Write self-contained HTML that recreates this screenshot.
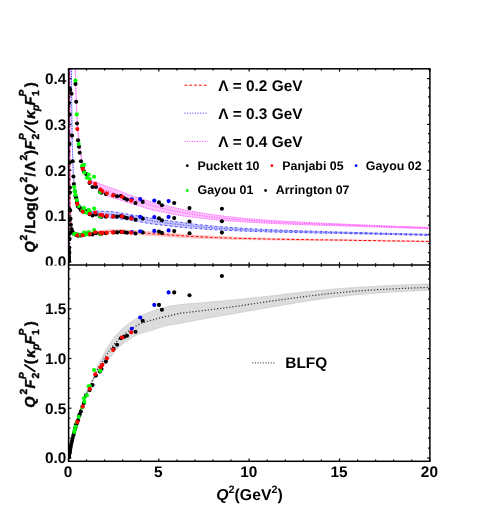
<!DOCTYPE html>
<html><head><meta charset="utf-8"><title>plot</title>
<style>html,body{margin:0;padding:0;background:#fff;}body{width:498px;height:530px;overflow:hidden;font-family:"Liberation Sans",sans-serif;}</style></head>
<body>
<svg width="498" height="530" viewBox="0 0 498 530" style="display:block">
<rect width="498" height="530" fill="#fff"/>
<defs><clipPath id="ct"><rect x="68.6" y="68.8" width="361.3" height="196.2"/></clipPath><clipPath id="cb"><rect x="68.6" y="265.0" width="361.3" height="196.3"/></clipPath></defs>
<g clip-path="url(#cb)">
<path d="M68.5 458L69.8 450.6L71.2 443.9L72.6 437.6L74 431.8L75.4 426.4L76.8 421.3L78.2 416.5L79.6 412L81 407.7L82.4 403.6L83.7 399.8L85.1 396.1L86.5 392.6L87.9 389.2L89.3 385.9L90.7 382.8L92.1 379.9L93.5 376.9L94.9 373.3L96.2 369.4L97.6 366.1L99 363.3L100.4 360.6L101.8 357.9L103.2 355.2L104.6 352.5L106 350.1L107.4 347.7L108.8 345.4L110.2 343.2L111.5 341.1L112.9 339.1L114.3 337.2L115.7 335.5L117.1 333.9L118.5 332.4L119.9 331.1L121.3 329.7L122.7 328.5L126.5 325.2L130.4 322.4L134.3 319.9L138.2 317.4L142.1 315.3L146 313.7L149.9 312.1L153.8 310.5L157.7 309.2L161.5 308.1L165.4 307.2L169.3 306.3L173.2 305.6L177.1 305L181 304.5L184.9 304.1L188.8 303.8L192.7 303.5L196.5 303.2L200.4 302.9L204.3 302.5L208.2 302.2L212.1 301.8L216 301.5L219.9 301.1L223.8 300.8L227.6 300.4L231.5 300.1L235.4 299.7L239.3 299.3L243.2 298.9L247.1 298.5L251 298.1L254.9 297.7L258.8 297.2L262.6 296.8L266.5 296.4L270.4 296L274.3 295.5L278.2 295L282.1 294.6L286 294.1L289.9 293.6L293.8 293.1L297.6 292.7L301.5 292.2L305.4 291.8L309.3 291.4L313.2 291L317.1 290.6L321 290.2L324.9 289.9L328.7 289.5L332.6 289.2L336.5 288.8L340.4 288.5L344.3 288.2L348.2 287.9L352.1 287.7L356 287.4L359.9 287.1L363.7 286.9L367.6 286.7L371.5 286.4L375.4 286.2L379.3 286L383.2 285.8L387.1 285.6L391 285.5L394.9 285.3L398.7 285.1L402.6 285L406.5 284.8L410.4 284.6L414.3 284.5L418.2 284.4L422.1 284.2L426 284.1L429.8 284L429.8 290.3L426 290.4L422.1 290.6L418.2 290.7L414.3 290.9L410.4 291.1L406.5 291.3L402.6 291.5L398.7 291.7L394.9 291.9L391 292.1L387.1 292.4L383.2 292.6L379.3 292.9L375.4 293.2L371.5 293.5L367.6 293.8L363.7 294.1L359.9 294.5L356 294.8L352.1 295.2L348.2 295.6L344.3 296L340.4 296.5L336.5 296.9L332.6 297.5L328.7 298L324.9 298.5L321 299.1L317.1 299.7L313.2 300.2L309.3 300.8L305.4 301.4L301.5 302L297.6 302.6L293.8 303.3L289.9 303.9L286 304.6L282.1 305.2L278.2 305.9L274.3 306.6L270.4 307.2L266.5 307.9L262.6 308.6L258.8 309.2L254.9 309.9L251 310.6L247.1 311.3L243.2 312L239.3 312.7L235.4 313.4L231.5 314L227.6 314.7L223.8 315.4L219.9 316L216 316.7L212.1 317.4L208.2 318L204.3 318.7L200.4 319.4L196.5 320.2L192.7 320.9L188.8 321.7L184.9 322.5L181 323.2L177.1 323.9L173.2 324.5L169.3 325.2L165.4 326.1L161.5 327.1L157.7 328.3L153.8 329.6L149.9 330.7L146 331.8L142.1 332.8L138.2 334.3L134.3 336.3L130.4 338.6L126.5 341.2L122.7 344.1L121.3 345.3L119.9 346.4L118.5 347.6L117.1 348.9L115.7 350.5L114.3 352.3L112.9 354.1L111.5 355.8L110.2 357.6L108.8 359.3L107.4 360.9L106 362.4L104.6 364L103.2 365.5L101.8 367.1L100.4 368.7L99 370.3L97.6 372L96.2 374.4L94.9 377.4L93.5 380.4L92.1 383.1L90.7 385.7L89.3 388.5L87.9 391.5L86.5 394.6L85.1 397.9L83.7 401.3L82.4 405L81 408.8L79.6 412.9L78.2 417.2L76.8 421.8L75.4 426.8L74 432.1L72.6 437.8L71.2 444L69.8 450.7L68.5 458Z" fill="#dcdcdc" stroke="#c4c4c4" stroke-width="0.6"/>
<path d="M68.5 458L69.8 450.7L71.2 443.9L72.6 437.7L74 431.9L75.4 426.6L76.8 421.6L78.2 416.8L79.6 412.4L81 408.3L82.4 404.3L83.7 400.5L85.1 397L86.5 393.6L87.9 390.3L89.3 387.2L90.7 384.3L92.1 381.5L93.5 378.7L94.9 375.5L96.2 372.1L97.6 369.3L99 367.1L100.4 364.9L101.8 362.6L103.2 360.3L104.6 358L106 355.7L107.4 353.5L108.8 351.3L110.2 349.4L111.5 347.6L112.9 345.9L114.3 344.2L115.7 342.6L117.1 341.1L118.5 339.6L119.9 338.3L121.3 337L122.7 335.7L126.5 332.6L130.4 329.8L134.3 327.1L138.2 324.7L142.1 322.9L146 321.8L149.9 320.7L153.8 319.6L157.7 318.5L161.5 317.5L165.4 316.6L169.3 315.8L173.2 314.8L177.1 313.9L181 313.2L184.9 312.7L188.8 312.2L192.7 311.8L196.5 311.4L200.4 310.9L204.3 310.5L208.2 310L212.1 309.5L216 309L219.9 308.5L223.8 308L227.6 307.5L231.5 307L235.4 306.4L239.3 305.9L243.2 305.3L247.1 304.7L251 304.1L254.9 303.5L258.8 302.9L262.6 302.4L266.5 301.8L270.4 301.2L274.3 300.7L278.2 300.1L282.1 299.6L286 299.1L289.9 298.5L293.8 298L297.6 297.5L301.5 297L305.4 296.5L309.3 296L313.2 295.5L317.1 295.1L321 294.6L324.9 294.1L328.7 293.7L332.6 293.3L336.5 292.9L340.4 292.5L344.3 292.1L348.2 291.7L352.1 291.4L356 291.1L359.9 290.8L363.7 290.6L367.6 290.3L371.5 290L375.4 289.8L379.3 289.6L383.2 289.4L387.1 289.1L391 289L394.9 288.8L398.7 288.6L402.6 288.4L406.5 288.2L410.4 288.1L414.3 287.9L418.2 287.8L422.1 287.6L426 287.5L429.8 287.4" fill="none" stroke="#333" stroke-width="1.2" stroke-dasharray="1.2 1.9"/>
<g fill="#000">
<circle cx="68.6" cy="457.3" r="2.05"/>
<circle cx="68.7" cy="456.8" r="2.05"/>
<circle cx="68.8" cy="456.4" r="2.05"/>
<circle cx="68.8" cy="455.9" r="2.05"/>
<circle cx="69.0" cy="455.1" r="2.05"/>
<circle cx="69.1" cy="454.4" r="2.05"/>
<circle cx="69.2" cy="454.1" r="2.05"/>
<circle cx="69.3" cy="453.5" r="2.05"/>
<circle cx="69.5" cy="452.7" r="2.05"/>
<circle cx="69.6" cy="452.3" r="2.05"/>
<circle cx="69.7" cy="451.6" r="2.05"/>
<circle cx="69.9" cy="450.5" r="2.05"/>
<circle cx="70.2" cy="449.0" r="2.05"/>
<circle cx="70.5" cy="447.6" r="2.05"/>
<circle cx="70.9" cy="445.6" r="2.05"/>
<circle cx="71.5" cy="443.0" r="2.05"/>
<circle cx="72.0" cy="440.7" r="2.05"/>
<circle cx="72.7" cy="438.1" r="2.05"/>
<circle cx="73.4" cy="435.2" r="2.05"/>
<circle cx="73.9" cy="433.0" r="2.05"/>
<circle cx="74.8" cy="429.8" r="2.05"/>
<circle cx="75.5" cy="427.3" r="2.05"/>
<circle cx="76.2" cy="424.3" r="2.05"/>
<circle cx="77.0" cy="422.7" r="2.05"/>
<circle cx="78.0" cy="420.3" r="2.05"/>
<circle cx="79.0" cy="416.1" r="2.05"/>
<circle cx="79.7" cy="414.3" r="2.05"/>
<circle cx="80.9" cy="411.5" r="2.05"/>
<circle cx="82.5" cy="406.5" r="2.05"/>
<circle cx="83.9" cy="403.1" r="2.05"/>
<circle cx="86.1" cy="395.4" r="2.05"/>
<circle cx="89.6" cy="390.1" r="2.05"/>
<circle cx="92.5" cy="385.1" r="2.05"/>
<circle cx="95.9" cy="375.6" r="2.05"/>
<circle cx="99.9" cy="371.6" r="2.05"/>
<circle cx="101.5" cy="369.0" r="2.05"/>
<circle cx="105.9" cy="361.6" r="2.05"/>
<circle cx="113.6" cy="348.9" r="2.05"/>
<circle cx="117.1" cy="344.7" r="2.05"/>
<circle cx="120.9" cy="338.2" r="2.05"/>
<circle cx="124.3" cy="336.8" r="2.05"/>
<circle cx="127.0" cy="335.8" r="2.05"/>
<circle cx="135.5" cy="331.8" r="2.05"/>
<circle cx="142.7" cy="320.8" r="2.05"/>
<circle cx="159.0" cy="304.9" r="2.05"/>
<circle cx="174.2" cy="292.4" r="2.05"/>
</g>
<g fill="#0f0">
<circle cx="74.2" cy="431.9" r="2.05"/>
<circle cx="74.8" cy="429.8" r="2.05"/>
<circle cx="75.5" cy="426.8" r="2.05"/>
<circle cx="76.8" cy="422.3" r="2.05"/>
<circle cx="78.7" cy="416.7" r="2.05"/>
<circle cx="82.2" cy="407.4" r="2.05"/>
<circle cx="84.0" cy="398.3" r="2.05"/>
<circle cx="84.4" cy="401.7" r="2.05"/>
<circle cx="86.9" cy="395.3" r="2.05"/>
<circle cx="88.7" cy="386.2" r="2.05"/>
<circle cx="89.8" cy="386.3" r="2.05"/>
<circle cx="94.1" cy="370.0" r="2.05"/>
<circle cx="100.3" cy="370.7" r="2.05"/>
</g>
<g fill="#00f">
<circle cx="131.7" cy="328.8" r="2.05"/>
<circle cx="140.2" cy="317.5" r="2.05"/>
<circle cx="154.3" cy="304.9" r="2.05"/>
<circle cx="168.6" cy="292.4" r="2.05"/>
</g>
<g fill="#f00">
<circle cx="77.3" cy="421.9" r="2.05"/>
<circle cx="82.7" cy="406.6" r="2.05"/>
<circle cx="89.8" cy="388.9" r="2.05"/>
<circle cx="95.2" cy="374.2" r="2.05"/>
<circle cx="100.4" cy="367.3" r="2.05"/>
<circle cx="102.4" cy="364.9" r="2.05"/>
<circle cx="106.9" cy="358.2" r="2.05"/>
<circle cx="113.1" cy="349.9" r="2.05"/>
<circle cx="122.1" cy="337.4" r="2.05"/>
<circle cx="131.2" cy="332.2" r="2.05"/>
</g>
<g fill="#000">
<circle cx="161.9" cy="309.7" r="2.05"/>
<circle cx="189.5" cy="295.3" r="2.05"/>
<circle cx="221.9" cy="276.0" r="2.05"/>
</g>
</g>
<g clip-path="url(#ct)">
<path d="M69.2 -100L69.2 -100L69.2 -100L69.2 -100L69.2 -100L69.2 -100L69.2 -100L69.2 -100L69.2 -100L69.2 -100L69.2 -100L69.2 -100L69.2 -100L69.3 -100L69.3 -100L69.3 -100L69.3 -100L69.3 -100L69.3 -100L69.3 -100L69.4 -100L69.4 -96.7L69.4 -38.3L69.4 9.3L69.5 48.2L69.5 80L69.5 106.2L69.6 127.7L69.6 145.5L69.7 160.2L69.8 172.4L69.8 182.6L69.9 191.1L70 198.2L70.1 204.2L70.2 209.3L70.4 213.5L70.5 217.1L70.7 220.1L70.9 222.6L71.1 224.8L71.3 226.6L71.6 228.1L71.9 229.3L72.2 230.3L72.6 231.2L73 231.9L73.5 232.4L74 232.8L74.6 233.1L75.3 233.4L76 233.5L76.9 233.5L77.8 233.5L78.9 233.5L80.1 233.4L81.4 233.3L82.9 233.1L84.6 232.9L86.5 232.7L88 232.6L89.5 232.4L91 232.3L92.5 232.2L94 232L95.6 231.4L97.1 231L98.6 230.8L100.1 230.6L101.6 230.5L103.1 230.3L104.6 230.1L106.1 229.9L107.6 229.8L109.1 229.7L110.6 229.6L112.1 229.6L113.6 229.5L115.1 229.5L116.6 229.5L118.1 229.6L119.6 229.7L121.2 229.7L122.7 229.8L127.9 230.1L133.1 230.5L138.3 230.8L143.5 231.2L148.7 231.6L153.9 232L159.1 232.4L164.3 232.8L169.5 233.2L174.7 233.6L179.9 234L185.1 234.4L190.3 234.8L195.6 235.1L200.8 235.5L206 235.8L211.2 236.1L216.4 236.4L221.6 236.6L226.8 236.8L232 237.1L237.2 237.3L242.4 237.5L247.6 237.6L252.8 237.8L258 238L263.2 238.1L268.4 238.2L273.7 238.4L278.9 238.5L284.1 238.6L289.3 238.7L294.5 238.8L299.7 238.9L304.9 239L310.1 239.1L315.3 239.2L320.5 239.3L325.7 239.4L330.9 239.5L336.1 239.5L341.3 239.6L346.5 239.7L351.8 239.8L357 239.9L362.2 240L367.4 240.1L372.6 240.2L377.8 240.2L383 240.3L388.2 240.4L393.4 240.5L398.6 240.6L403.8 240.7L409 240.7L414.2 240.8L419.4 240.9L424.6 241L429.8 241.1L429.8 241.8L424.6 241.7L419.4 241.7L414.2 241.6L409 241.5L403.8 241.5L398.6 241.4L393.4 241.3L388.2 241.3L383 241.2L377.8 241.1L372.6 241L367.4 241L362.2 240.9L357 240.8L351.8 240.8L346.5 240.7L341.3 240.7L336.1 240.6L330.9 240.6L325.7 240.5L320.5 240.5L315.3 240.4L310.1 240.4L304.9 240.3L299.7 240.3L294.5 240.2L289.3 240.2L284.1 240.1L278.9 240L273.7 240L268.4 239.9L263.2 239.8L258 239.7L252.8 239.7L247.6 239.6L242.4 239.5L237.2 239.4L232 239.2L226.8 239.1L221.6 239L216.4 238.8L211.2 238.7L206 238.5L200.8 238.3L195.6 238.1L190.3 237.9L185.1 237.7L179.9 237.4L174.7 237.1L169.5 236.8L164.3 236.4L159.1 236.1L153.9 235.8L148.7 235.5L143.5 235L138.3 234.5L133.1 234.2L127.9 233.9L122.7 233.7L121.2 233.6L119.6 233.6L118.1 233.5L116.6 233.5L115.1 233.5L113.6 233.6L112.1 233.6L110.6 233.7L109.1 233.7L107.6 233.7L106.1 233.6L104.6 233.5L103.1 233.4L101.6 233.3L100.1 233.1L98.6 233L97.1 232.9L95.6 233L94 233.3L92.5 233.4L91 233.5L89.5 233.5L88 233.6L86.5 233.6L84.6 233.7L82.9 233.8L81.4 233.9L80.1 234L78.9 234L77.8 234L76.9 234L76 233.9L75.3 233.7L74.6 233.4L74 233.1L73.5 232.7L73 232.1L72.6 231.4L72.2 230.5L71.9 229.5L71.6 228.2L71.3 226.7L71.1 224.9L70.9 222.8L70.7 220.3L70.5 217.3L70.4 213.7L70.2 209.4L70.1 204.4L70 198.4L69.9 191.3L69.8 182.8L69.8 172.6L69.7 160.4L69.6 145.7L69.6 128L69.5 106.5L69.5 80.4L69.5 48.6L69.4 9.7L69.4 -37.8L69.4 -96.1L69.4 -100L69.3 -100L69.3 -100L69.3 -100L69.3 -100L69.3 -100L69.3 -100L69.3 -100L69.2 -100L69.2 -100L69.2 -100L69.2 -100L69.2 -100L69.2 -100L69.2 -100L69.2 -100L69.2 -100L69.2 -100L69.2 -100L69.2 -100L69.2 -100Z" fill="#ffc4c4" stroke="#ffc4c4" stroke-width="0.8"/>
<path d="M70.1 -100L70.1 -100L70.1 -100L70.1 -100L70.1 -100L70.1 -100L70.2 -100L70.2 -100L70.2 -100L70.2 -100L70.2 -100L70.2 -100L70.2 -100L70.2 -100L70.2 -100L70.3 -100L70.3 -100L70.3 -100L70.3 -100L70.4 -100L70.4 -100L70.4 -100L70.5 -100L70.5 -100L70.5 -100L70.6 -100L70.6 -100L70.7 -100L70.8 -100L70.9 -100L70.9 -62.9L71 -23.1L71.1 10.5L71.2 39L71.4 63.3L71.5 83.9L71.7 101.6L71.8 116.7L72 129.7L72.2 140.8L72.5 150.4L72.7 158.8L73 165.9L73.3 172.2L73.7 177.6L74 182.3L74.5 186.4L74.9 189.9L75.4 193L76 195.8L76.7 198.1L77.4 200.2L78.1 202L79 203.6L80 205L81 206.3L82.2 207.3L83.5 208.3L84.9 209.1L86.5 209.8L88 210.4L89.5 210.9L91 211.3L92.5 211.7L94 211.8L95.6 211.4L97.1 211.1L98.6 211.1L100.1 211.2L101.6 211.3L103.1 211.3L104.6 211.3L106.1 211.4L107.6 211.4L109.1 211.5L110.6 211.6L112.1 211.7L113.6 211.9L115.1 212.1L116.6 212.3L118.1 212.5L119.6 212.8L121.2 213L122.7 213.3L127.9 214.2L133.1 215.2L138.3 216L143.5 216.9L148.7 217.8L153.9 218.5L159.1 219.3L164.3 220.1L169.5 220.8L174.7 221.6L179.9 222.3L185.1 223L190.3 223.7L195.6 224.3L200.8 224.9L206 225.4L211.2 225.9L216.4 226.4L221.6 226.8L226.8 227.2L232 227.6L237.2 227.9L242.4 228.3L247.6 228.6L252.8 228.9L258 229.1L263.2 229.4L268.4 229.6L273.7 229.9L278.9 230.1L284.1 230.3L289.3 230.4L294.5 230.6L299.7 230.8L304.9 231L310.1 231.1L315.3 231.3L320.5 231.4L325.7 231.6L330.9 231.8L336.1 231.9L341.3 232.1L346.5 232.2L351.8 232.4L357 232.5L362.2 232.6L367.4 232.8L372.6 232.9L377.8 233.1L383 233.2L388.2 233.3L393.4 233.5L398.6 233.6L403.8 233.7L409 233.9L414.2 234L419.4 234.1L424.6 234.2L429.8 234.4L429.8 235.4L424.6 235.3L419.4 235.1L414.2 235L409 234.9L403.8 234.8L398.6 234.7L393.4 234.6L388.2 234.5L383 234.3L377.8 234.2L372.6 234.1L367.4 234L362.2 233.9L357 233.8L351.8 233.7L346.5 233.6L341.3 233.4L336.1 233.3L330.9 233.2L325.7 233.2L320.5 233.1L315.3 233L310.1 232.8L304.9 232.7L299.7 232.6L294.5 232.5L289.3 232.4L284.1 232.3L278.9 232.2L273.7 232L268.4 231.9L263.2 231.7L258 231.6L252.8 231.4L247.6 231.2L242.4 231L237.2 230.8L232 230.6L226.8 230.4L221.6 230.1L216.4 229.8L211.2 229.5L206 229.2L200.8 228.8L195.6 228.4L190.3 228.1L185.1 227.6L179.9 227.1L174.7 226.6L169.5 226L164.3 225.3L159.1 224.7L153.9 224.1L148.7 223.4L143.5 222.4L138.3 221.5L133.1 220.7L127.9 219.9L122.7 219.2L121.2 219L119.6 218.7L118.1 218.5L116.6 218.3L115.1 218.2L113.6 218.1L112.1 218.1L110.6 217.9L109.1 217.8L107.6 217.5L106.1 217.2L104.6 216.8L103.1 216.3L101.6 215.9L100.1 215.3L98.6 214.7L97.1 214.2L95.6 214L94 214.1L92.5 213.8L91 213.3L89.5 212.8L88 212.2L86.5 211.5L84.9 210.6L83.5 209.7L82.2 208.6L81 207.5L80 206.2L79 204.7L78.1 203L77.4 201.2L76.7 199L76 196.6L75.4 193.9L74.9 190.8L74.5 187.2L74 183.1L73.7 178.3L73.3 172.9L73 166.7L72.7 159.5L72.5 151.2L72.2 141.6L72 130.5L71.8 117.6L71.7 102.5L71.5 84.9L71.4 64.3L71.2 40.1L71.1 11.7L71 -21.8L70.9 -61.4L70.9 -100L70.8 -100L70.7 -100L70.6 -100L70.6 -100L70.5 -100L70.5 -100L70.5 -100L70.4 -100L70.4 -100L70.4 -100L70.3 -100L70.3 -100L70.3 -100L70.3 -100L70.2 -100L70.2 -100L70.2 -100L70.2 -100L70.2 -100L70.2 -100L70.2 -100L70.2 -100L70.2 -100L70.1 -100L70.1 -100L70.1 -100L70.1 -100L70.1 -100L70.1 -100Z" fill="#c8c8ff" stroke="#c8c8ff" stroke-width="0.8"/>
<path d="M71.4 -100L71.4 -100L71.4 -100L71.4 -100L71.4 -100L71.5 -100L71.5 -100L71.5 -100L71.5 -100L71.5 -100L71.5 -100L71.5 -100L71.6 -100L71.6 -100L71.6 -100L71.6 -100L71.6 -100L71.7 -100L71.7 -100L71.7 -100L71.8 -100L71.8 -100L71.9 -100L71.9 -100L72 -100L72 -100L72.1 -100L72.2 -100L72.3 -100L72.3 -100L72.4 -100L72.5 -100L72.7 -100L72.8 -100L72.9 -100L73.1 -100L73.2 -100L73.4 -100L73.6 -76.1L73.8 -43.6L74.1 -15.4L74.3 9.2L74.6 30.7L74.9 49.5L75.2 65.9L75.6 80.3L76 93L76.5 104.2L76.9 114.1L77.5 122.8L78.1 130.6L78.7 137.5L79.4 143.7L80.2 149.2L81 154.1L81.9 158.5L82.9 162.4L84 166L85.2 169.2L86.5 172.1L88 174.8L89.5 177.1L91 179.1L92.5 180.9L94 182L95.6 182.2L97.1 182.4L98.6 183.2L100.1 184L101.6 184.7L103.1 185.2L104.6 185.7L106.1 186.2L107.6 186.7L109.1 187.3L110.6 187.8L112.1 188.3L113.6 188.8L115.1 189.3L116.6 189.9L118.1 190.5L119.6 191.2L121.2 191.8L122.7 192.4L127.9 194.4L133.1 196.4L138.3 198L143.5 199.6L148.7 201.2L153.9 202.6L159.1 203.9L164.3 205.3L169.5 206.5L174.7 207.7L179.9 208.9L185.1 210L190.3 211L195.6 212L200.8 212.9L206 213.8L211.2 214.5L216.4 215.3L221.6 215.9L226.8 216.6L232 217.1L237.2 217.7L242.4 218.2L247.6 218.7L252.8 219.1L258 219.5L263.2 219.9L268.4 220.3L273.7 220.6L278.9 221L284.1 221.3L289.3 221.6L294.5 221.8L299.7 222.1L304.9 222.4L310.1 222.6L315.3 222.9L320.5 223.1L325.7 223.4L330.9 223.6L336.1 223.8L341.3 224.1L346.5 224.3L351.8 224.5L357 224.7L362.2 224.9L367.4 225.1L372.6 225.4L377.8 225.6L383 225.8L388.2 226L393.4 226.2L398.6 226.4L403.8 226.5L409 226.7L414.2 226.9L419.4 227.1L424.6 227.3L429.8 227.4L429.8 228.7L424.6 228.5L419.4 228.4L414.2 228.2L409 228L403.8 227.9L398.6 227.7L393.4 227.5L388.2 227.4L383 227.2L377.8 227L372.6 226.8L367.4 226.7L362.2 226.5L357 226.3L351.8 226.2L346.5 226L341.3 225.8L336.1 225.7L330.9 225.5L325.7 225.3L320.5 225.2L315.3 225L310.1 224.8L304.9 224.7L299.7 224.5L294.5 224.3L289.3 224.1L284.1 223.9L278.9 223.7L273.7 223.5L268.4 223.2L263.2 223L258 222.7L252.8 222.4L247.6 222.1L242.4 221.8L237.2 221.5L232 221.1L226.8 220.7L221.6 220.2L216.4 219.8L211.2 219.3L206 218.7L200.8 218.1L195.6 217.5L190.3 216.9L185.1 216.2L179.9 215.4L174.7 214.4L169.5 213.4L164.3 212.4L159.1 211.3L153.9 210.2L148.7 208.9L143.5 207.3L138.3 205.6L133.1 204.1L127.9 202.5L122.7 200.8L121.2 200.3L119.6 199.7L118.1 199.2L116.6 198.6L115.1 198.3L113.6 198L112.1 197.5L110.6 197.1L109.1 196.5L107.6 195.8L106.1 194.9L104.6 193.9L103.1 192.8L101.6 191.6L100.1 190.3L98.6 188.7L97.1 187.2L95.6 186.3L94 185.6L92.5 184.2L91 182.3L89.5 180.2L88 177.8L86.5 174.9L85.2 171.9L84 168.6L82.9 164.9L81.9 160.9L81 156.5L80.2 151.5L79.4 145.9L78.7 139.7L78.1 132.8L77.5 125L76.9 116.3L76.5 106.4L76 95.3L75.6 82.6L75.2 68.2L74.9 51.9L74.6 33.2L74.3 11.8L74.1 -12.6L73.8 -40.7L73.6 -73L73.4 -100L73.2 -100L73.1 -100L72.9 -100L72.8 -100L72.7 -100L72.5 -100L72.4 -100L72.3 -100L72.3 -100L72.2 -100L72.1 -100L72 -100L72 -100L71.9 -100L71.9 -100L71.8 -100L71.8 -100L71.7 -100L71.7 -100L71.7 -100L71.6 -100L71.6 -100L71.6 -100L71.6 -100L71.6 -100L71.5 -100L71.5 -100L71.5 -100L71.5 -100L71.5 -100L71.5 -100L71.5 -100L71.4 -100L71.4 -100L71.4 -100L71.4 -100L71.4 -100Z" fill="#ffc4ff" stroke="#ffc4ff" stroke-width="0.8"/>
<path d="M69.2 -100L69.2 -100L69.2 -100L69.2 -100L69.2 -100L69.2 -100L69.2 -100L69.2 -100L69.2 -100L69.2 -100L69.2 -100L69.2 -100L69.2 -100L69.3 -100L69.3 -100L69.3 -100L69.3 -100L69.3 -100L69.3 -100L69.3 -100L69.4 -100L69.4 -96.4L69.4 -38L69.4 9.5L69.5 48.4L69.5 80.2L69.5 106.3L69.6 127.8L69.6 145.6L69.7 160.3L69.8 172.5L69.8 182.7L69.9 191.2L70 198.3L70.1 204.3L70.2 209.3L70.4 213.6L70.5 217.2L70.7 220.2L70.9 222.7L71.1 224.9L71.3 226.6L71.6 228.1L71.9 229.4L72.2 230.4L72.6 231.3L73 232L73.5 232.5L74 233L74.6 233.3L75.3 233.5L76 233.7L76.9 233.8L77.8 233.8L78.9 233.7L80.1 233.7L81.4 233.6L82.9 233.5L84.6 233.3L86.5 233.2L88 233.1L89.5 233L91 232.9L92.5 232.8L94 232.6L95.6 232.3L97.1 232L98.6 231.9L100.1 232L101.6 231.9L103.1 231.8L104.6 231.7L106.1 231.6L107.6 231.5L109.1 231.4L110.6 231.4L112.1 231.4L113.6 231.4L115.1 231.4L116.6 231.4L118.1 231.5L119.6 231.5L121.2 231.5L122.7 231.6L127.9 231.9L133.1 232.1L138.3 232.4L143.5 232.9L148.7 233.4L153.9 233.8L159.1 234.2L164.3 234.6L169.5 235L174.7 235.3L179.9 235.6L185.1 235.9L190.3 236.3L195.6 236.6L200.8 236.9L206 237.1L211.2 237.4L216.4 237.6L221.6 237.8L226.8 238L232 238.1L237.2 238.3L242.4 238.4L247.6 238.6L252.8 238.7L258 238.8L263.2 238.9L268.4 239L273.7 239.1L278.9 239.2L284.1 239.3L289.3 239.4L294.5 239.5L299.7 239.6L304.9 239.6L310.1 239.7L315.3 239.8L320.5 239.9L325.7 239.9L330.9 240L336.1 240.1L341.3 240.1L346.5 240.2L351.8 240.3L357 240.4L362.2 240.5L367.4 240.5L372.6 240.6L377.8 240.7L383 240.8L388.2 240.9L393.4 240.9L398.6 241L403.8 241.1L409 241.2L414.2 241.2L419.4 241.3L424.6 241.4L429.8 241.5" fill="none" stroke="#f00" stroke-width="1.0" stroke-dasharray="2.8 2"/>
<path d="M68.5 261.3L68.6 259.9L68.7 257.4L68.7 253.2L68.8 246.7L68.8 237.2L68.9 223.5L68.9 204.4L68.9 177.9L69 141.8L69 92.9L69 27.2L69 -60.3L69.1 -100L69.1 -100L69.1 -100L69.1 -100L69.1 -100L69.1 -100L69.1 -100L69.1 -100L69.1 -100L69.1 -100L69.1 -100L69.1 -100L69.1 -100L69.1 -100L69.2 -100L69.2 -100" fill="none" stroke="#f00" stroke-width="1.0" stroke-dasharray="2.8 2"/>
<path d="M86.5 209.8L88 210.4L89.5 210.9L91 211.3L92.5 211.7L94 211.8L95.6 211.4L97.1 211.1L98.6 211.1L100.1 211.2L101.6 211.3L103.1 211.3L104.6 211.3L106.1 211.4L107.6 211.4L109.1 211.5L110.6 211.6L112.1 211.7L113.6 211.9L115.1 212.1L116.6 212.3L118.1 212.5L119.6 212.8L121.2 213L122.7 213.3L127.9 214.2L133.1 215.2L138.3 216L143.5 216.9L148.7 217.8L153.9 218.5L159.1 219.3L164.3 220.1L169.5 220.8L174.7 221.6L179.9 222.3L185.1 223L190.3 223.7L195.6 224.3L200.8 224.9L206 225.4L211.2 225.9L216.4 226.4L221.6 226.8L226.8 227.2L232 227.6L237.2 227.9L242.4 228.3L247.6 228.6L252.8 228.9L258 229.1L263.2 229.4L268.4 229.6L273.7 229.9L278.9 230.1L284.1 230.3L289.3 230.4L294.5 230.6L299.7 230.8L304.9 231L310.1 231.1L315.3 231.3L320.5 231.4L325.7 231.6L330.9 231.8L336.1 231.9L341.3 232.1L346.5 232.2L351.8 232.4L357 232.5L362.2 232.6L367.4 232.8L372.6 232.9L377.8 233.1L383 233.2L388.2 233.3L393.4 233.5L398.6 233.6L403.8 233.7L409 233.9L414.2 234L419.4 234.1L424.6 234.2L429.8 234.4" fill="none" stroke="#33f" stroke-width="0.8" stroke-dasharray="2.4 2.6"/>
<path d="M86.5 211.5L88 212.2L89.5 212.8L91 213.3L92.5 213.8L94 214.1L95.6 214L97.1 214.2L98.6 214.7L100.1 215.3L101.6 215.9L103.1 216.3L104.6 216.8L106.1 217.2L107.6 217.5L109.1 217.8L110.6 217.9L112.1 218.1L113.6 218.1L115.1 218.2L116.6 218.3L118.1 218.5L119.6 218.7L121.2 219L122.7 219.2L127.9 219.9L133.1 220.7L138.3 221.5L143.5 222.4L148.7 223.4L153.9 224.1L159.1 224.7L164.3 225.3L169.5 226L174.7 226.6L179.9 227.1L185.1 227.6L190.3 228.1L195.6 228.4L200.8 228.8L206 229.2L211.2 229.5L216.4 229.8L221.6 230.1L226.8 230.4L232 230.6L237.2 230.8L242.4 231L247.6 231.2L252.8 231.4L258 231.6L263.2 231.7L268.4 231.9L273.7 232L278.9 232.2L284.1 232.3L289.3 232.4L294.5 232.5L299.7 232.6L304.9 232.7L310.1 232.8L315.3 233L320.5 233.1L325.7 233.2L330.9 233.2L336.1 233.3L341.3 233.4L346.5 233.6L351.8 233.7L357 233.8L362.2 233.9L367.4 234L372.6 234.1L377.8 234.2L383 234.3L388.2 234.5L393.4 234.6L398.6 234.7L403.8 234.8L409 234.9L414.2 235L419.4 235.1L424.6 235.3L429.8 235.4" fill="none" stroke="#33f" stroke-width="0.8" stroke-dasharray="2.4 2.6"/>
<path d="M70.1 -100L70.1 -100L70.1 -100L70.1 -100L70.1 -100L70.1 -100L70.2 -100L70.2 -100L70.2 -100L70.2 -100L70.2 -100L70.2 -100L70.2 -100L70.2 -100L70.2 -100L70.3 -100L70.3 -100L70.3 -100L70.3 -100L70.4 -100L70.4 -100L70.4 -100L70.5 -100L70.5 -100L70.5 -100L70.6 -100L70.6 -100L70.7 -100L70.8 -100L70.9 -100L70.9 -62.2L71 -22.5L71.1 11.1L71.2 39.6L71.4 63.8L71.5 84.4L71.7 102L71.8 117.1L72 130.1L72.2 141.2L72.5 150.8L72.7 159.1L73 166.3L73.3 172.6L73.7 178L74 182.7L74.5 186.8L74.9 190.3L75.4 193.5L76 196.2L76.7 198.6L77.4 200.7L78.1 202.5L79 204.1L80 205.6L81 206.9L82.2 208L83.5 209L84.9 209.9L86.5 210.7L88 211.3L89.5 211.8L91 212.3L92.5 212.8L94 213L95.6 212.8L97.1 212.8L98.6 213.1L100.1 213.4L101.6 213.7L103.1 213.8L104.6 213.9L106.1 214L107.6 214.1L109.1 214.2L110.6 214.4L112.1 214.6L113.6 214.7L115.1 214.9L116.6 215.1L118.1 215.3L119.6 215.6L121.2 215.8L122.7 216L127.9 216.9L133.1 217.7L138.3 218.4L143.5 219.3L148.7 220.3L153.9 221.2L159.1 222L164.3 222.7L169.5 223.4L174.7 224L179.9 224.6L185.1 225.2L190.3 225.8L195.6 226.3L200.8 226.8L206 227.3L211.2 227.7L216.4 228.1L221.6 228.4L226.8 228.8L232 229.1L237.2 229.4L242.4 229.6L247.6 229.9L252.8 230.1L258 230.3L263.2 230.5L268.4 230.7L273.7 230.9L278.9 231.1L284.1 231.2L289.3 231.4L294.5 231.5L299.7 231.7L304.9 231.8L310.1 232L315.3 232.1L320.5 232.2L325.7 232.4L330.9 232.5L336.1 232.6L341.3 232.7L346.5 232.9L351.8 233L357 233.1L362.2 233.3L367.4 233.4L372.6 233.5L377.8 233.7L383 233.8L388.2 233.9L393.4 234.1L398.6 234.2L403.8 234.3L409 234.4L414.2 234.5L419.4 234.7L424.6 234.8L429.8 234.9" fill="none" stroke="#33f" stroke-width="0.9" stroke-dasharray="1.1 1.5"/>
<path d="M68.6 260.7L68.8 257.6L69 251.9L69.1 242.6L69.2 228.3L69.3 207.2L69.4 177.1L69.5 134.8L69.6 76.5L69.6 -3L69.7 -100L69.7 -100L69.8 -100L69.8 -100L69.8 -100L69.9 -100L69.9 -100L69.9 -100L69.9 -100L69.9 -100L70 -100L70 -100L70 -100L70 -100L70 -100L70 -100L70 -100L70 -100L70 -100" fill="none" stroke="#33f" stroke-width="0.9" stroke-dasharray="1.1 1.5"/>
<path d="M86.5 172.1L88 174.8L89.5 177.1L91 179.1L92.5 180.9L94 182L95.6 182.2L97.1 182.4L98.6 183.2L100.1 184L101.6 184.7L103.1 185.2L104.6 185.7L106.1 186.2L107.6 186.7L109.1 187.3L110.6 187.8L112.1 188.3L113.6 188.8L115.1 189.3L116.6 189.9L118.1 190.5L119.6 191.2L121.2 191.8L122.7 192.4L127.9 194.4L133.1 196.4L138.3 198L143.5 199.6L148.7 201.2L153.9 202.6L159.1 203.9L164.3 205.3L169.5 206.5L174.7 207.7L179.9 208.9L185.1 210L190.3 211L195.6 212L200.8 212.9L206 213.8L211.2 214.5L216.4 215.3L221.6 215.9L226.8 216.6L232 217.1L237.2 217.7L242.4 218.2L247.6 218.7L252.8 219.1L258 219.5L263.2 219.9L268.4 220.3L273.7 220.6L278.9 221L284.1 221.3L289.3 221.6L294.5 221.8L299.7 222.1L304.9 222.4L310.1 222.6L315.3 222.9L320.5 223.1L325.7 223.4L330.9 223.6L336.1 223.8L341.3 224.1L346.5 224.3L351.8 224.5L357 224.7L362.2 224.9L367.4 225.1L372.6 225.4L377.8 225.6L383 225.8L388.2 226L393.4 226.2L398.6 226.4L403.8 226.5L409 226.7L414.2 226.9L419.4 227.1L424.6 227.3L429.8 227.4" fill="none" stroke="#f3f" stroke-width="0.7" stroke-dasharray="1.2 1.2"/>
<path d="M86.5 174.9L88 177.8L89.5 180.2L91 182.3L92.5 184.2L94 185.6L95.6 186.3L97.1 187.2L98.6 188.7L100.1 190.3L101.6 191.6L103.1 192.8L104.6 193.9L106.1 194.9L107.6 195.8L109.1 196.5L110.6 197.1L112.1 197.5L113.6 198L115.1 198.3L116.6 198.6L118.1 199.2L119.6 199.7L121.2 200.3L122.7 200.8L127.9 202.5L133.1 204.1L138.3 205.6L143.5 207.3L148.7 208.9L153.9 210.2L159.1 211.3L164.3 212.4L169.5 213.4L174.7 214.4L179.9 215.4L185.1 216.2L190.3 216.9L195.6 217.5L200.8 218.1L206 218.7L211.2 219.3L216.4 219.8L221.6 220.2L226.8 220.7L232 221.1L237.2 221.5L242.4 221.8L247.6 222.1L252.8 222.4L258 222.7L263.2 223L268.4 223.2L273.7 223.5L278.9 223.7L284.1 223.9L289.3 224.1L294.5 224.3L299.7 224.5L304.9 224.7L310.1 224.8L315.3 225L320.5 225.2L325.7 225.3L330.9 225.5L336.1 225.7L341.3 225.8L346.5 226L351.8 226.2L357 226.3L362.2 226.5L367.4 226.7L372.6 226.8L377.8 227L383 227.2L388.2 227.4L393.4 227.5L398.6 227.7L403.8 227.9L409 228L414.2 228.2L419.4 228.4L424.6 228.5L429.8 228.7" fill="none" stroke="#f3f" stroke-width="0.7" stroke-dasharray="1.2 1.2"/>
<path d="M71.4 -100L71.4 -100L71.4 -100L71.4 -100L71.4 -100L71.5 -100L71.5 -100L71.5 -100L71.5 -100L71.5 -100L71.5 -100L71.5 -100L71.6 -100L71.6 -100L71.6 -100L71.6 -100L71.6 -100L71.7 -100L71.7 -100L71.7 -100L71.8 -100L71.8 -100L71.9 -100L71.9 -100L72 -100L72 -100L72.1 -100L72.2 -100L72.3 -100L72.3 -100L72.4 -100L72.5 -100L72.7 -100L72.8 -100L72.9 -100L73.1 -100L73.2 -100L73.4 -100L73.6 -74.6L73.8 -42.2L74.1 -14L74.3 10.5L74.6 31.9L74.9 50.7L75.2 67.1L75.6 81.5L76 94.1L76.5 105.3L76.9 115.2L77.5 123.9L78.1 131.7L78.7 138.6L79.4 144.8L80.2 150.3L81 155.3L81.9 159.7L82.9 163.7L84 167.3L85.2 170.5L86.5 173.5L88 176.3L89.5 178.7L91 180.7L92.5 182.5L94 183.8L95.6 184.4L97.1 185L98.6 186.2L100.1 187.4L101.6 188.3L103.1 189L104.6 189.6L106.1 190.2L107.6 190.7L109.1 191.2L110.6 191.8L112.1 192.4L113.6 193L115.1 193.6L116.6 194.1L118.1 194.7L119.6 195.2L121.2 195.7L122.7 196.3L127.9 198.1L133.1 199.8L138.3 201.3L143.5 203L148.7 204.7L153.9 206.2L159.1 207.6L164.3 208.8L169.5 209.9L174.7 211L179.9 211.9L185.1 212.9L190.3 213.8L195.6 214.7L200.8 215.5L206 216.2L211.2 216.9L216.4 217.5L221.6 218.1L226.8 218.6L232 219.1L237.2 219.5L242.4 220L247.6 220.3L252.8 220.7L258 221L263.2 221.4L268.4 221.7L273.7 222L278.9 222.2L284.1 222.5L289.3 222.8L294.5 223L299.7 223.2L304.9 223.5L310.1 223.7L315.3 223.9L320.5 224.1L325.7 224.3L330.9 224.5L336.1 224.7L341.3 224.9L346.5 225.1L351.8 225.3L357 225.5L362.2 225.7L367.4 225.9L372.6 226.1L377.8 226.3L383 226.5L388.2 226.7L393.4 226.9L398.6 227.1L403.8 227.2L409 227.4L414.2 227.6L419.4 227.8L424.6 227.9L429.8 228.1" fill="none" stroke="#f3f" stroke-width="0.9" stroke-dasharray="1.1 1.4"/>
<path d="M68.8 259.8L69.1 254.5L69.4 244.5L69.6 228.2L69.8 203.3L70 166.7L70.2 114.6L70.3 41.7L70.4 -58.7L70.5 -100L70.6 -100L70.7 -100L70.8 -100L70.9 -100L70.9 -100L71 -100L71 -100L71 -100L71.1 -100L71.1 -100L71.1 -100L71.2 -100L71.2 -100L71.2 -100L71.2 -100L71.2 -100L71.2 -100L71.3 -100L71.3 -100" fill="none" stroke="#f3f" stroke-width="0.9" stroke-dasharray="1.1 1.4"/>
<g fill="#000">
<circle cx="68.6" cy="260.8" r="2.05"/>
<circle cx="68.7" cy="258.1" r="2.05"/>
<circle cx="68.8" cy="251.5" r="2.05"/>
<circle cx="68.8" cy="234.6" r="2.05"/>
<circle cx="69.0" cy="102.9" r="2.05"/>
<circle cx="69.5" cy="66.0" r="2.05"/>
<circle cx="69.6" cy="114.5" r="2.05"/>
<circle cx="69.7" cy="162.5" r="2.05"/>
<circle cx="69.9" cy="192.6" r="2.05"/>
<circle cx="70.2" cy="210.4" r="2.05"/>
<circle cx="70.5" cy="218.8" r="2.05"/>
<circle cx="70.9" cy="224.7" r="2.05"/>
<circle cx="71.5" cy="229.0" r="2.05"/>
<circle cx="72.0" cy="230.9" r="2.05"/>
<circle cx="72.7" cy="232.4" r="2.05"/>
<circle cx="73.4" cy="233.3" r="2.05"/>
<circle cx="73.9" cy="233.8" r="2.05"/>
<circle cx="74.8" cy="234.2" r="2.05"/>
<circle cx="75.5" cy="234.6" r="2.05"/>
<circle cx="76.2" cy="234.2" r="2.05"/>
<circle cx="77.0" cy="235.2" r="2.05"/>
<circle cx="78.0" cy="235.8" r="2.05"/>
<circle cx="79.0" cy="235.0" r="2.05"/>
<circle cx="79.7" cy="235.1" r="2.05"/>
<circle cx="80.9" cy="235.4" r="2.05"/>
<circle cx="82.5" cy="234.9" r="2.05"/>
<circle cx="83.9" cy="234.8" r="2.05"/>
<circle cx="86.1" cy="233.6" r="2.05"/>
<circle cx="89.6" cy="234.4" r="2.05"/>
<circle cx="92.5" cy="234.5" r="2.05"/>
<circle cx="95.9" cy="233.2" r="2.05"/>
<circle cx="99.9" cy="233.8" r="2.05"/>
<circle cx="101.5" cy="233.8" r="2.05"/>
<circle cx="105.9" cy="233.3" r="2.05"/>
<circle cx="113.6" cy="232.4" r="2.05"/>
<circle cx="117.1" cy="232.4" r="2.05"/>
<circle cx="120.9" cy="231.7" r="2.05"/>
<circle cx="124.3" cy="232.3" r="2.05"/>
<circle cx="127.0" cy="232.7" r="2.05"/>
<circle cx="135.5" cy="233.5" r="2.05"/>
<circle cx="142.7" cy="232.4" r="2.05"/>
<circle cx="159.0" cy="231.6" r="2.05"/>
<circle cx="174.2" cy="231.1" r="2.05"/>
</g>
<g fill="#0f0">
<circle cx="74.2" cy="234.0" r="2.05"/>
<circle cx="74.8" cy="234.2" r="2.05"/>
<circle cx="75.5" cy="234.1" r="2.05"/>
<circle cx="76.8" cy="234.2" r="2.05"/>
<circle cx="78.7" cy="234.9" r="2.05"/>
<circle cx="82.2" cy="234.9" r="2.05"/>
<circle cx="84.0" cy="232.6" r="2.05"/>
<circle cx="84.4" cy="234.7" r="2.05"/>
<circle cx="86.9" cy="234.3" r="2.05"/>
<circle cx="88.7" cy="232.0" r="2.05"/>
<circle cx="89.8" cy="233.0" r="2.05"/>
<circle cx="94.1" cy="230.0" r="2.05"/>
<circle cx="100.3" cy="233.8" r="2.05"/>
</g>
<g fill="#00f">
<circle cx="131.7" cy="232.1" r="2.05"/>
<circle cx="140.2" cy="231.2" r="2.05"/>
<circle cx="154.3" cy="230.9" r="2.05"/>
<circle cx="168.6" cy="230.4" r="2.05"/>
</g>
<g fill="#f00">
<circle cx="77.3" cy="235.3" r="2.05"/>
<circle cx="82.7" cy="235.2" r="2.05"/>
<circle cx="89.8" cy="234.0" r="2.05"/>
<circle cx="95.2" cy="232.2" r="2.05"/>
<circle cx="100.4" cy="232.7" r="2.05"/>
<circle cx="102.4" cy="232.9" r="2.05"/>
<circle cx="106.9" cy="232.7" r="2.05"/>
<circle cx="113.1" cy="232.5" r="2.05"/>
<circle cx="122.1" cy="231.9" r="2.05"/>
<circle cx="131.2" cy="232.7" r="2.05"/>
</g>
<g fill="#000">
<circle cx="161.9" cy="232.9" r="2.05"/>
<circle cx="189.5" cy="233.2" r="2.05"/>
<circle cx="221.9" cy="232.6" r="2.05"/>
</g>
<g fill="#000">
<circle cx="68.6" cy="261.3" r="2.05"/>
<circle cx="68.7" cy="260.5" r="2.05"/>
<circle cx="68.8" cy="259.1" r="2.05"/>
<circle cx="68.8" cy="256.9" r="2.05"/>
<circle cx="69.0" cy="250.9" r="2.05"/>
<circle cx="69.1" cy="239.5" r="2.05"/>
<circle cx="69.2" cy="233.0" r="2.05"/>
<circle cx="69.3" cy="209.2" r="2.05"/>
<circle cx="69.5" cy="144.1" r="2.05"/>
<circle cx="69.6" cy="88.4" r="2.05"/>
<circle cx="71.5" cy="93.7" r="2.05"/>
<circle cx="72.0" cy="135.6" r="2.05"/>
<circle cx="72.7" cy="161.3" r="2.05"/>
<circle cx="73.4" cy="176.5" r="2.05"/>
<circle cx="73.9" cy="184.0" r="2.05"/>
<circle cx="74.8" cy="191.4" r="2.05"/>
<circle cx="75.5" cy="196.1" r="2.05"/>
<circle cx="76.2" cy="198.1" r="2.05"/>
<circle cx="77.0" cy="202.8" r="2.05"/>
<circle cx="78.0" cy="206.4" r="2.05"/>
<circle cx="79.0" cy="206.7" r="2.05"/>
<circle cx="79.7" cy="208.0" r="2.05"/>
<circle cx="80.9" cy="210.1" r="2.05"/>
<circle cx="82.5" cy="210.9" r="2.05"/>
<circle cx="83.9" cy="211.8" r="2.05"/>
<circle cx="86.1" cy="211.2" r="2.05"/>
<circle cx="89.6" cy="214.3" r="2.05"/>
<circle cx="92.5" cy="215.5" r="2.05"/>
<circle cx="95.9" cy="214.4" r="2.05"/>
<circle cx="99.9" cy="216.4" r="2.05"/>
<circle cx="101.5" cy="216.7" r="2.05"/>
<circle cx="105.9" cy="216.7" r="2.05"/>
<circle cx="113.6" cy="216.4" r="2.05"/>
<circle cx="117.1" cy="216.6" r="2.05"/>
<circle cx="120.9" cy="216.1" r="2.05"/>
<circle cx="124.3" cy="217.2" r="2.05"/>
<circle cx="127.0" cy="218.0" r="2.05"/>
<circle cx="135.5" cy="219.8" r="2.05"/>
<circle cx="142.7" cy="218.6" r="2.05"/>
<circle cx="159.0" cy="218.2" r="2.05"/>
<circle cx="174.2" cy="218.1" r="2.05"/>
</g>
<g fill="#0f0">
<circle cx="74.2" cy="187.0" r="2.05"/>
<circle cx="74.8" cy="191.4" r="2.05"/>
<circle cx="75.5" cy="194.9" r="2.05"/>
<circle cx="76.8" cy="200.0" r="2.05"/>
<circle cx="78.7" cy="206.0" r="2.05"/>
<circle cx="82.2" cy="210.6" r="2.05"/>
<circle cx="84.0" cy="207.9" r="2.05"/>
<circle cx="84.4" cy="211.9" r="2.05"/>
<circle cx="86.9" cy="212.8" r="2.05"/>
<circle cx="88.7" cy="209.8" r="2.05"/>
<circle cx="89.8" cy="211.9" r="2.05"/>
<circle cx="94.1" cy="208.6" r="2.05"/>
<circle cx="100.3" cy="216.4" r="2.05"/>
</g>
<g fill="#00f">
<circle cx="131.7" cy="217.4" r="2.05"/>
<circle cx="140.2" cy="216.7" r="2.05"/>
<circle cx="154.3" cy="217.0" r="2.05"/>
<circle cx="168.6" cy="216.9" r="2.05"/>
</g>
<g fill="#f00">
<circle cx="77.3" cy="203.9" r="2.05"/>
<circle cx="82.7" cy="211.6" r="2.05"/>
<circle cx="89.8" cy="213.8" r="2.05"/>
<circle cx="95.2" cy="212.6" r="2.05"/>
<circle cx="100.4" cy="214.7" r="2.05"/>
<circle cx="102.4" cy="215.4" r="2.05"/>
<circle cx="106.9" cy="215.9" r="2.05"/>
<circle cx="113.1" cy="216.5" r="2.05"/>
<circle cx="122.1" cy="216.4" r="2.05"/>
<circle cx="131.2" cy="218.4" r="2.05"/>
</g>
<g fill="#000">
<circle cx="161.9" cy="220.2" r="2.05"/>
<circle cx="189.5" cy="221.5" r="2.05"/>
<circle cx="221.9" cy="221.3" r="2.05"/>
</g>
<g fill="#000">
<circle cx="68.6" cy="261.5" r="2.05"/>
<circle cx="68.7" cy="261.0" r="2.05"/>
<circle cx="68.8" cy="260.3" r="2.05"/>
<circle cx="68.8" cy="259.3" r="2.05"/>
<circle cx="69.0" cy="257.1" r="2.05"/>
<circle cx="69.1" cy="253.8" r="2.05"/>
<circle cx="69.2" cy="252.2" r="2.05"/>
<circle cx="69.3" cy="247.5" r="2.05"/>
<circle cx="69.5" cy="238.7" r="2.05"/>
<circle cx="69.6" cy="233.6" r="2.05"/>
<circle cx="69.7" cy="220.1" r="2.05"/>
<circle cx="69.9" cy="187.5" r="2.05"/>
<circle cx="70.2" cy="90.0" r="2.05"/>
<circle cx="75.5" cy="83.9" r="2.05"/>
<circle cx="76.2" cy="101.7" r="2.05"/>
<circle cx="77.0" cy="123.5" r="2.05"/>
<circle cx="78.0" cy="140.2" r="2.05"/>
<circle cx="79.0" cy="146.8" r="2.05"/>
<circle cx="79.7" cy="152.7" r="2.05"/>
<circle cx="80.9" cy="161.3" r="2.05"/>
<circle cx="82.5" cy="167.2" r="2.05"/>
<circle cx="83.9" cy="171.5" r="2.05"/>
<circle cx="86.1" cy="174.0" r="2.05"/>
<circle cx="89.6" cy="182.9" r="2.05"/>
<circle cx="92.5" cy="187.0" r="2.05"/>
<circle cx="95.9" cy="187.0" r="2.05"/>
<circle cx="99.9" cy="191.9" r="2.05"/>
<circle cx="101.5" cy="192.8" r="2.05"/>
<circle cx="105.9" cy="194.1" r="2.05"/>
<circle cx="113.6" cy="195.3" r="2.05"/>
<circle cx="117.1" cy="196.3" r="2.05"/>
<circle cx="120.9" cy="196.1" r="2.05"/>
<circle cx="124.3" cy="198.2" r="2.05"/>
<circle cx="127.0" cy="199.6" r="2.05"/>
<circle cx="135.5" cy="203.0" r="2.05"/>
<circle cx="142.7" cy="201.9" r="2.05"/>
<circle cx="159.0" cy="202.4" r="2.05"/>
<circle cx="174.2" cy="203.0" r="2.05"/>
</g>
<g fill="#0f0">
<circle cx="75.5" cy="80.6" r="2.05"/>
<circle cx="76.8" cy="114.4" r="2.05"/>
<circle cx="78.7" cy="144.0" r="2.05"/>
<circle cx="82.2" cy="165.9" r="2.05"/>
<circle cx="84.0" cy="164.7" r="2.05"/>
<circle cx="84.4" cy="172.6" r="2.05"/>
<circle cx="86.9" cy="177.7" r="2.05"/>
<circle cx="88.7" cy="174.5" r="2.05"/>
<circle cx="89.8" cy="179.1" r="2.05"/>
<circle cx="94.1" cy="176.8" r="2.05"/>
<circle cx="100.3" cy="191.9" r="2.05"/>
</g>
<g fill="#00f">
<circle cx="131.7" cy="199.3" r="2.05"/>
<circle cx="140.2" cy="199.1" r="2.05"/>
<circle cx="154.3" cy="200.5" r="2.05"/>
<circle cx="168.6" cy="201.1" r="2.05"/>
</g>
<g fill="#f00">
<circle cx="77.3" cy="129.1" r="2.05"/>
<circle cx="82.7" cy="168.9" r="2.05"/>
<circle cx="89.8" cy="182.2" r="2.05"/>
<circle cx="95.2" cy="183.9" r="2.05"/>
<circle cx="100.4" cy="189.5" r="2.05"/>
<circle cx="102.4" cy="191.2" r="2.05"/>
<circle cx="106.9" cy="193.3" r="2.05"/>
<circle cx="113.1" cy="195.4" r="2.05"/>
<circle cx="122.1" cy="196.7" r="2.05"/>
<circle cx="131.2" cy="200.6" r="2.05"/>
</g>
<g fill="#000">
<circle cx="161.9" cy="205.3" r="2.05"/>
<circle cx="189.5" cy="208.1" r="2.05"/>
<circle cx="221.9" cy="208.7" r="2.05"/>
</g>
</g>
<g stroke="#000" stroke-width="1.5" fill="none">
<rect x="68.6" y="68.8" width="361.3" height="392.5"/>
<line x1="68.6" y1="265.0" x2="429.9" y2="265.0"/>
</g>
<g stroke="#000" stroke-width="1.2">
<line x1="68.5" y1="68.8" x2="68.5" y2="71.6"/>
<line x1="68.5" y1="262.2" x2="68.5" y2="267.8"/>
<line x1="68.5" y1="461.3" x2="68.5" y2="458.5"/>
<line x1="86.5" y1="68.8" x2="86.5" y2="70.6"/>
<line x1="86.5" y1="263.2" x2="86.5" y2="266.8"/>
<line x1="86.5" y1="461.3" x2="86.5" y2="459.5"/>
<line x1="104.6" y1="68.8" x2="104.6" y2="70.6"/>
<line x1="104.6" y1="263.2" x2="104.6" y2="266.8"/>
<line x1="104.6" y1="461.3" x2="104.6" y2="459.5"/>
<line x1="122.7" y1="68.8" x2="122.7" y2="70.6"/>
<line x1="122.7" y1="263.2" x2="122.7" y2="266.8"/>
<line x1="122.7" y1="461.3" x2="122.7" y2="459.5"/>
<line x1="140.7" y1="68.8" x2="140.7" y2="70.6"/>
<line x1="140.7" y1="263.2" x2="140.7" y2="266.8"/>
<line x1="140.7" y1="461.3" x2="140.7" y2="459.5"/>
<line x1="158.8" y1="68.8" x2="158.8" y2="71.6"/>
<line x1="158.8" y1="262.2" x2="158.8" y2="267.8"/>
<line x1="158.8" y1="461.3" x2="158.8" y2="458.5"/>
<line x1="176.9" y1="68.8" x2="176.9" y2="70.6"/>
<line x1="176.9" y1="263.2" x2="176.9" y2="266.8"/>
<line x1="176.9" y1="461.3" x2="176.9" y2="459.5"/>
<line x1="194.9" y1="68.8" x2="194.9" y2="70.6"/>
<line x1="194.9" y1="263.2" x2="194.9" y2="266.8"/>
<line x1="194.9" y1="461.3" x2="194.9" y2="459.5"/>
<line x1="213.0" y1="68.8" x2="213.0" y2="70.6"/>
<line x1="213.0" y1="263.2" x2="213.0" y2="266.8"/>
<line x1="213.0" y1="461.3" x2="213.0" y2="459.5"/>
<line x1="231.1" y1="68.8" x2="231.1" y2="70.6"/>
<line x1="231.1" y1="263.2" x2="231.1" y2="266.8"/>
<line x1="231.1" y1="461.3" x2="231.1" y2="459.5"/>
<line x1="249.1" y1="68.8" x2="249.1" y2="71.6"/>
<line x1="249.1" y1="262.2" x2="249.1" y2="267.8"/>
<line x1="249.1" y1="461.3" x2="249.1" y2="458.5"/>
<line x1="267.2" y1="68.8" x2="267.2" y2="70.6"/>
<line x1="267.2" y1="263.2" x2="267.2" y2="266.8"/>
<line x1="267.2" y1="461.3" x2="267.2" y2="459.5"/>
<line x1="285.3" y1="68.8" x2="285.3" y2="70.6"/>
<line x1="285.3" y1="263.2" x2="285.3" y2="266.8"/>
<line x1="285.3" y1="461.3" x2="285.3" y2="459.5"/>
<line x1="303.4" y1="68.8" x2="303.4" y2="70.6"/>
<line x1="303.4" y1="263.2" x2="303.4" y2="266.8"/>
<line x1="303.4" y1="461.3" x2="303.4" y2="459.5"/>
<line x1="321.4" y1="68.8" x2="321.4" y2="70.6"/>
<line x1="321.4" y1="263.2" x2="321.4" y2="266.8"/>
<line x1="321.4" y1="461.3" x2="321.4" y2="459.5"/>
<line x1="339.5" y1="68.8" x2="339.5" y2="71.6"/>
<line x1="339.5" y1="262.2" x2="339.5" y2="267.8"/>
<line x1="339.5" y1="461.3" x2="339.5" y2="458.5"/>
<line x1="357.6" y1="68.8" x2="357.6" y2="70.6"/>
<line x1="357.6" y1="263.2" x2="357.6" y2="266.8"/>
<line x1="357.6" y1="461.3" x2="357.6" y2="459.5"/>
<line x1="375.6" y1="68.8" x2="375.6" y2="70.6"/>
<line x1="375.6" y1="263.2" x2="375.6" y2="266.8"/>
<line x1="375.6" y1="461.3" x2="375.6" y2="459.5"/>
<line x1="393.7" y1="68.8" x2="393.7" y2="70.6"/>
<line x1="393.7" y1="263.2" x2="393.7" y2="266.8"/>
<line x1="393.7" y1="461.3" x2="393.7" y2="459.5"/>
<line x1="411.8" y1="68.8" x2="411.8" y2="70.6"/>
<line x1="411.8" y1="263.2" x2="411.8" y2="266.8"/>
<line x1="411.8" y1="461.3" x2="411.8" y2="459.5"/>
<line x1="429.8" y1="68.8" x2="429.8" y2="71.6"/>
<line x1="429.8" y1="262.2" x2="429.8" y2="267.8"/>
<line x1="429.8" y1="461.3" x2="429.8" y2="458.5"/>
<line x1="68.6" y1="261.8" x2="71.4" y2="261.8"/>
<line x1="429.9" y1="261.8" x2="427.1" y2="261.8"/>
<line x1="68.6" y1="252.6" x2="70.4" y2="252.6"/>
<line x1="429.9" y1="252.6" x2="428.1" y2="252.6"/>
<line x1="68.6" y1="243.5" x2="70.4" y2="243.5"/>
<line x1="429.9" y1="243.5" x2="428.1" y2="243.5"/>
<line x1="68.6" y1="234.3" x2="70.4" y2="234.3"/>
<line x1="429.9" y1="234.3" x2="428.1" y2="234.3"/>
<line x1="68.6" y1="225.2" x2="70.4" y2="225.2"/>
<line x1="429.9" y1="225.2" x2="428.1" y2="225.2"/>
<line x1="68.6" y1="216.0" x2="71.4" y2="216.0"/>
<line x1="429.9" y1="216.0" x2="427.1" y2="216.0"/>
<line x1="68.6" y1="206.8" x2="70.4" y2="206.8"/>
<line x1="429.9" y1="206.8" x2="428.1" y2="206.8"/>
<line x1="68.6" y1="197.7" x2="70.4" y2="197.7"/>
<line x1="429.9" y1="197.7" x2="428.1" y2="197.7"/>
<line x1="68.6" y1="188.5" x2="70.4" y2="188.5"/>
<line x1="429.9" y1="188.5" x2="428.1" y2="188.5"/>
<line x1="68.6" y1="179.4" x2="70.4" y2="179.4"/>
<line x1="429.9" y1="179.4" x2="428.1" y2="179.4"/>
<line x1="68.6" y1="170.2" x2="71.4" y2="170.2"/>
<line x1="429.9" y1="170.2" x2="427.1" y2="170.2"/>
<line x1="68.6" y1="161.0" x2="70.4" y2="161.0"/>
<line x1="429.9" y1="161.0" x2="428.1" y2="161.0"/>
<line x1="68.6" y1="151.9" x2="70.4" y2="151.9"/>
<line x1="429.9" y1="151.9" x2="428.1" y2="151.9"/>
<line x1="68.6" y1="142.7" x2="70.4" y2="142.7"/>
<line x1="429.9" y1="142.7" x2="428.1" y2="142.7"/>
<line x1="68.6" y1="133.6" x2="70.4" y2="133.6"/>
<line x1="429.9" y1="133.6" x2="428.1" y2="133.6"/>
<line x1="68.6" y1="124.4" x2="71.4" y2="124.4"/>
<line x1="429.9" y1="124.4" x2="427.1" y2="124.4"/>
<line x1="68.6" y1="115.2" x2="70.4" y2="115.2"/>
<line x1="429.9" y1="115.2" x2="428.1" y2="115.2"/>
<line x1="68.6" y1="106.1" x2="70.4" y2="106.1"/>
<line x1="429.9" y1="106.1" x2="428.1" y2="106.1"/>
<line x1="68.6" y1="96.9" x2="70.4" y2="96.9"/>
<line x1="429.9" y1="96.9" x2="428.1" y2="96.9"/>
<line x1="68.6" y1="87.8" x2="70.4" y2="87.8"/>
<line x1="429.9" y1="87.8" x2="428.1" y2="87.8"/>
<line x1="68.6" y1="78.6" x2="71.4" y2="78.6"/>
<line x1="429.9" y1="78.6" x2="427.1" y2="78.6"/>
<line x1="68.6" y1="69.4" x2="70.4" y2="69.4"/>
<line x1="429.9" y1="69.4" x2="428.1" y2="69.4"/>
<line x1="68.6" y1="458.0" x2="71.4" y2="458.0"/>
<line x1="429.9" y1="458.0" x2="427.1" y2="458.0"/>
<line x1="68.6" y1="448.1" x2="70.4" y2="448.1"/>
<line x1="429.9" y1="448.1" x2="428.1" y2="448.1"/>
<line x1="68.6" y1="438.1" x2="70.4" y2="438.1"/>
<line x1="429.9" y1="438.1" x2="428.1" y2="438.1"/>
<line x1="68.6" y1="428.1" x2="70.4" y2="428.1"/>
<line x1="429.9" y1="428.1" x2="428.1" y2="428.1"/>
<line x1="68.6" y1="418.2" x2="70.4" y2="418.2"/>
<line x1="429.9" y1="418.2" x2="428.1" y2="418.2"/>
<line x1="68.6" y1="408.2" x2="71.4" y2="408.2"/>
<line x1="429.9" y1="408.2" x2="427.1" y2="408.2"/>
<line x1="68.6" y1="398.3" x2="70.4" y2="398.3"/>
<line x1="429.9" y1="398.3" x2="428.1" y2="398.3"/>
<line x1="68.6" y1="388.4" x2="70.4" y2="388.4"/>
<line x1="429.9" y1="388.4" x2="428.1" y2="388.4"/>
<line x1="68.6" y1="378.4" x2="70.4" y2="378.4"/>
<line x1="429.9" y1="378.4" x2="428.1" y2="378.4"/>
<line x1="68.6" y1="368.4" x2="70.4" y2="368.4"/>
<line x1="429.9" y1="368.4" x2="428.1" y2="368.4"/>
<line x1="68.6" y1="358.5" x2="71.4" y2="358.5"/>
<line x1="429.9" y1="358.5" x2="427.1" y2="358.5"/>
<line x1="68.6" y1="348.6" x2="70.4" y2="348.6"/>
<line x1="429.9" y1="348.6" x2="428.1" y2="348.6"/>
<line x1="68.6" y1="338.6" x2="70.4" y2="338.6"/>
<line x1="429.9" y1="338.6" x2="428.1" y2="338.6"/>
<line x1="68.6" y1="328.6" x2="70.4" y2="328.6"/>
<line x1="429.9" y1="328.6" x2="428.1" y2="328.6"/>
<line x1="68.6" y1="318.7" x2="70.4" y2="318.7"/>
<line x1="429.9" y1="318.7" x2="428.1" y2="318.7"/>
<line x1="68.6" y1="308.8" x2="71.4" y2="308.8"/>
<line x1="429.9" y1="308.8" x2="427.1" y2="308.8"/>
<line x1="68.6" y1="298.8" x2="70.4" y2="298.8"/>
<line x1="429.9" y1="298.8" x2="428.1" y2="298.8"/>
<line x1="68.6" y1="288.9" x2="70.4" y2="288.9"/>
<line x1="429.9" y1="288.9" x2="428.1" y2="288.9"/>
<line x1="68.6" y1="278.9" x2="70.4" y2="278.9"/>
<line x1="429.9" y1="278.9" x2="428.1" y2="278.9"/>
<line x1="68.6" y1="268.9" x2="70.4" y2="268.9"/>
<line x1="429.9" y1="268.9" x2="428.1" y2="268.9"/>
</g>
<g font-family="Liberation Sans, sans-serif" font-weight="bold" fill="#000" opacity="0.999" text-rendering="geometricPrecision">
<text x="66.3" y="221.4" font-size="15.4" text-anchor="end">0.1</text>
<text x="66.3" y="175.6" font-size="15.4" text-anchor="end">0.2</text>
<text x="66.3" y="129.8" font-size="15.4" text-anchor="end">0.3</text>
<text x="66.3" y="84.0" font-size="15.4" text-anchor="end">0.4</text>
<clipPath id="c0"><rect x="30" y="240" width="40" height="25.4"/></clipPath>
<text x="66.3" y="267.2" font-size="15.4" text-anchor="end" clip-path="url(#c0)">0.0</text>
<text x="66.3" y="463.4" font-size="15.4" text-anchor="end">0.0</text>
<text x="66.3" y="413.6" font-size="15.4" text-anchor="end">0.5</text>
<text x="66.3" y="363.9" font-size="15.4" text-anchor="end">1.0</text>
<text x="66.3" y="314.1" font-size="15.4" text-anchor="end">1.5</text>
<text x="68.0" y="477.4" font-size="15.4" text-anchor="middle">0</text>
<text x="158.4" y="477.4" font-size="15.4" text-anchor="middle">5</text>
<text x="248.7" y="477.4" font-size="15.4" text-anchor="middle">10</text>
<text x="339.1" y="477.4" font-size="15.4" text-anchor="middle">15</text>
<text x="429.4" y="477.4" font-size="15.4" text-anchor="middle">20</text>
<text x="249.5" y="500.3" font-size="15.8" text-anchor="middle"><tspan font-style="italic">Q</tspan><tspan font-size="10.8" dy="-7.3">2</tspan><tspan dy="7.3">(GeV</tspan><tspan font-size="10.8" dy="-7.3">2</tspan><tspan dy="7.3">)</tspan></text>
<g transform="translate(34.8,252.1) rotate(-90)"><text x="-0.5" y="0.0" font-size="14.4" font-style="italic" stroke="#000" stroke-width="0.45">Q</text><text x="11.6" y="-8.0" font-size="10.2" stroke="#000" stroke-width="0.45">2</text><text x="18.7" y="0.0" font-size="14.4" stroke="#000" stroke-width="0.45">/</text><text x="23.4" y="0.0" font-size="14.4" stroke="#000" stroke-width="0.45">L</text><text x="32.3" y="0.0" font-size="14.4" stroke="#000" stroke-width="0.45">o</text><text x="40.8" y="0.0" font-size="14.4" stroke="#000" stroke-width="0.45">g</text><text x="50.0" y="0.0" font-size="14.4" stroke="#000" stroke-width="0.45">(</text><text x="56.8" y="0.0" font-size="14.4" font-style="italic" stroke="#000" stroke-width="0.45">Q</text><text x="69.5" y="-8.0" font-size="10.2" stroke="#000" stroke-width="0.45">2</text><text x="75.5" y="0.0" font-size="14.4" stroke="#000" stroke-width="0.45">/</text><text x="81.0" y="0.0" font-size="14.4" stroke="#000" stroke-width="0.45">Λ</text><text x="91.6" y="-8.0" font-size="10.2" stroke="#000" stroke-width="0.45">2</text><text x="97.3" y="0.0" font-size="14.4" stroke="#000" stroke-width="0.45">)</text><text x="102.7" y="0.0" font-size="14.4" font-style="italic" stroke="#000" stroke-width="0.45">F</text><text x="112.5" y="4.0" font-size="10.2" stroke="#000" stroke-width="0.45">2</text><text x="112.2" y="-9.0" font-size="10.2" font-style="italic" stroke="#000" stroke-width="0.45">P</text><line x1="119.4" y1="0.5" x2="126.6" y2="-10.4" stroke="#000" stroke-width="1.8"/><text x="126.8" y="0.0" font-size="14.4" stroke="#000" stroke-width="0.45">(</text><text x="133.4" y="0.0" font-size="14.4" font-style="italic" stroke="#000" stroke-width="0.45">κ</text><text x="141.2" y="4.0" font-size="10.2" font-style="italic" stroke="#000" stroke-width="0.45">p</text><text x="146.5" y="0.0" font-size="14.4" font-style="italic" stroke="#000" stroke-width="0.45">F</text><text x="156.0" y="4.0" font-size="10.2" stroke="#000" stroke-width="0.45">1</text><text x="155.7" y="-9.0" font-size="10.2" font-style="italic" stroke="#000" stroke-width="0.45">P</text><text x="165.2" y="0.0" font-size="14.4" stroke="#000" stroke-width="0.45">)</text></g>
<g transform="translate(34.8,407.2) rotate(-90)"><text x="-0.5" y="0.0" font-size="14.4" font-style="italic" stroke="#000" stroke-width="0.45">Q</text><text x="12.7" y="-8.0" font-size="10.2" stroke="#000" stroke-width="0.45">2</text><text x="18.8" y="0.0" font-size="14.4" font-style="italic" stroke="#000" stroke-width="0.45">F</text><text x="28.6" y="4.0" font-size="10.2" stroke="#000" stroke-width="0.45">2</text><text x="28.3" y="-9.0" font-size="10.2" font-style="italic" stroke="#000" stroke-width="0.45">P</text><line x1="35.5" y1="0.5" x2="42.7" y2="-10.4" stroke="#000" stroke-width="1.8"/><text x="42.9" y="0.0" font-size="14.4" stroke="#000" stroke-width="0.45">(</text><text x="49.5" y="0.0" font-size="14.4" font-style="italic" stroke="#000" stroke-width="0.45">κ</text><text x="57.3" y="4.0" font-size="10.2" font-style="italic" stroke="#000" stroke-width="0.45">p</text><text x="62.6" y="0.0" font-size="14.4" font-style="italic" stroke="#000" stroke-width="0.45">F</text><text x="72.1" y="4.0" font-size="10.2" stroke="#000" stroke-width="0.45">1</text><text x="71.8" y="-9.0" font-size="10.2" font-style="italic" stroke="#000" stroke-width="0.45">P</text><text x="81.3" y="0.0" font-size="14.4" stroke="#000" stroke-width="0.45">)</text></g>
<line x1="184.5" y1="85.2" x2="207.6" y2="85.2" stroke="#f00" stroke-width="1.0" stroke-dasharray="2.8 2"/>
<text x="218.2" y="90.7" font-size="15.4">Λ = 0.2 GeV</text>
<line x1="184.5" y1="113.2" x2="207.6" y2="113.2" stroke="#33f" stroke-width="0.9" stroke-dasharray="1.1 1.5"/>
<text x="218.2" y="118.7" font-size="15.4">Λ = 0.3 GeV</text>
<line x1="184.5" y1="141.5" x2="207.6" y2="141.5" stroke="#f3f" stroke-width="0.9" stroke-dasharray="1.1 1.4"/>
<text x="218.2" y="147.0" font-size="15.4">Λ = 0.4 GeV</text>
<circle cx="187.3" cy="165.7" r="1.4" fill="#000"/>
<text x="197.5" y="169.6" font-size="12.4">Puckett 10</text>
<circle cx="271.9" cy="165.7" r="1.4" fill="#f00"/>
<text x="282.3" y="169.6" font-size="12.4">Panjabi 05</text>
<circle cx="356.1" cy="165.7" r="1.4" fill="#00f"/>
<text x="365.8" y="169.6" font-size="12.4">Gayou 02</text>
<circle cx="187.3" cy="190.5" r="1.4" fill="#0f0"/>
<text x="197.5" y="194.4" font-size="12.4">Gayou 01</text>
<circle cx="265.6" cy="190.5" r="1.4" fill="#000"/>
<text x="275.8" y="194.4" font-size="12.4">Arrington 07</text>
<line x1="252.4" y1="362.9" x2="275.4" y2="362.9" stroke="#555" stroke-width="1.1" stroke-dasharray="1.1 1.5"/>
<text x="285.3" y="368.4" font-size="15.4">BLFQ</text>
</g>
</svg>
</body></html>
